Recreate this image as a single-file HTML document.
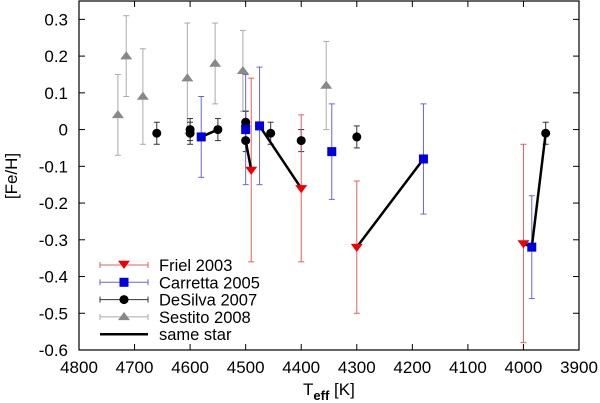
<!DOCTYPE html>
<html><head><meta charset="utf-8"><style>body{margin:0;background:#fff}svg{display:block;font-family:"Liberation Sans",sans-serif}</style></head>
<body>
<svg id="c" width="600" height="403"></svg>
<script>
const xTicks=[4800,4700,4600,4500,4400,4300,4200,4100,4000,3900];
const yTicks=[-0.6,-0.5,-0.4,-0.3,-0.2,-0.1,0,0.1,0.2,0.3];
const yTickLabels=["-0.6","-0.5","-0.4","-0.3","-0.2","-0.1","0","0.1","0.2","0.3"];
const frielT=[4490,4400,4300,4000];
const frielFe=[-0.11,-0.16,-0.32,-0.31];
const frielErr=[0.25,0.2,0.18,0.27];
const carT=[4580,4500,4475,4345,4180,3985];
const carFe=[-0.02,0.0,0.01,-0.06,-0.08,-0.32];
const carErr=[0.11,0.15,0.16,0.13,0.15,0.14];
const desT=[4660,4600,4600,4550,4500,4500,4500,4455,4400,4300,3960];
const desFe=[-0.01,-0.01,0.0,0.0,0.02,0.01,-0.03,-0.01,-0.03,-0.02,-0.01];
const desErr=[0.03,0.03,0.03,0.03,0.03,0.04,0.03,0.03,0.03,0.03,0.03];
const sesT=[4730,4715,4685,4605,4555,4505,4355];
const sesFe=[0.04,0.2,0.09,0.14,0.18,0.16,0.12];
const sesErr=[0.11,0.11,0.13,0.15,0.11,0.11,0.12];
const sameStar=[[[4580,-0.02],[4550,0.0]],[[4500,-0.03],[4490,-0.11]],[[4475,0.01],[4400,-0.16]],[[4300,-0.32],[4180,-0.08]],[[4000,-0.31],[3985,-0.32],[3960,-0.01]]];

const L=79,R=579,T=1,B=350;
const X=t=>L+(4800-t)/900*(R-L);
const Y=v=>B-(v+0.6)/0.95*(B-T);
const svg=document.getElementById('c');
const NS='http://www.w3.org/2000/svg';
function mk(tag,a,parent){const e=document.createElementNS(NS,tag);for(const k in a)e.setAttribute(k,a[k]);(parent||svg).appendChild(e);return e;}

xTicks.forEach(t=>{
  let l=mk('line',{x1:X(t),x2:X(t),y1:B,y2:B-6,stroke:'#000'});
  
  
  mk('line',{x1:X(t),x2:X(t),y1:T,y2:T+6,stroke:'#000'});
  let tx=mk('text',{x:X(t),y:373,'font-size':17,'text-anchor':'middle'});tx.textContent=t;
  
  
});
yTicks.forEach((v,i)=>{
  let l=mk('line',{x1:L,x2:L+6,y1:Y(v),y2:Y(v),stroke:'#000'});
  
  
  mk('line',{x1:R,x2:R-6,y1:Y(v),y2:Y(v),stroke:'#000'});
  let tx=mk('text',{x:68,y:Y(v)+6,'font-size':17,'text-anchor':'end'});tx.textContent=yTickLabels[i];
  
  
});

function errs(ts,fs,es,col){
  ts.forEach((t,i)=>{
    const x=X(t);
    const g=mk('g',{stroke:col,'stroke-width':1});
    
    
    mk('line',{x1:x,x2:x,y1:Y(fs[i]+es[i]),y2:Y(fs[i]-es[i])},g);
    mk('line',{x1:x-3,x2:x+3,y1:Y(fs[i]+es[i]),y2:Y(fs[i]+es[i])},g);
    mk('line',{x1:x-3,x2:x+3,y1:Y(fs[i]-es[i]),y2:Y(fs[i]-es[i])},g);
  });
}
errs(sesT,sesFe,sesErr,'#aaa');
errs(desT,desFe,desErr,'#333');
errs(carT,carFe,carErr,'#6666dd');
errs(frielT,frielFe,frielErr,'#e06060');

sameStar.forEach(s=>{
  const p=mk('polyline',{points:s.map(q=>X(q[0])+','+Y(q[1])).join(' '),fill:'none',stroke:'#000','stroke-width':2.5});
  
  
});

function tri(x,y,down,col,s){const h=s*0.9;const pts=down?`${x-s},${y-h*0.6} ${x+s},${y-h*0.6} ${x},${y+h*0.9}`:`${x-s},${y+h*0.6} ${x+s},${y+h*0.6} ${x},${y-h*0.9}`;return mk('polygon',{points:pts,fill:col});}
sesT.forEach((t,i)=>{const e=tri(X(t),Y(sesFe[i]),false,'#888',6);});
desT.forEach((t,i)=>{const e=mk('circle',{cx:X(t),cy:Y(desFe[i]),r:4.5,fill:'#000'});});
carT.forEach((t,i)=>{const e=mk('rect',{x:X(t)-4.5,y:Y(carFe[i])-4.5,width:9,height:9,fill:'#0000dd'});});
frielT.forEach((t,i)=>{const e=tri(X(t),Y(frielFe[i]),true,'#ee0000',6);});

mk('rect',{x:L,y:T,width:R-L,height:B-T,fill:'none',stroke:'#000','stroke-width':1.2});

const leg=[['Friel 2003','#e06060','tri','#ee0000'],['Carretta 2005','#6666dd','sq','#0000dd'],['DeSilva 2007','#333','ci','#000'],['Sestito 2008','#aaa','up','#888'],['same star','#000','line','#000']];
leg.forEach((e,i)=>{
  const y=265+i*17.3;
  const g=mk('g',{});
  
  
  if(e[2]==='line'){mk('line',{x1:100,x2:148,y1:y,y2:y,stroke:'#000','stroke-width':2.5},g);}
  else{
    mk('line',{x1:100,x2:148,y1:y,y2:y,stroke:e[1]},g);
    mk('line',{x1:100,x2:100,y1:y-3,y2:y+3,stroke:e[1]},g);
    mk('line',{x1:148,x2:148,y1:y-3,y2:y+3,stroke:e[1]},g);
    if(e[2]==='tri')g.appendChild(tri(124,y-1,true,e[3],6));
    if(e[2]==='up')g.appendChild(tri(124,y,false,e[3],6));
    if(e[2]==='sq')mk('rect',{x:119.5,y:y-4.5,width:9,height:9,fill:e[3]},g);
    if(e[2]==='ci')mk('circle',{cx:124,cy:y,r:4.5,fill:e[3]},g);
  }
  const t=mk('text',{x:159,y:y+6,'font-size':16.5},g);t.textContent=e[0];
});

const yl=mk('text',{x:17,y:176,'font-size':17,'text-anchor':'middle',transform:'rotate(-90 17 176)'});yl.textContent='[Fe/H]';


const xl=mk('text',{x:303,y:395,'font-size':17});


xl.innerHTML='T<tspan font-size="13" dy="5" font-weight="bold">eff</tspan><tspan dy="-5"> [K]</tspan>';
</script>
</body></html>
